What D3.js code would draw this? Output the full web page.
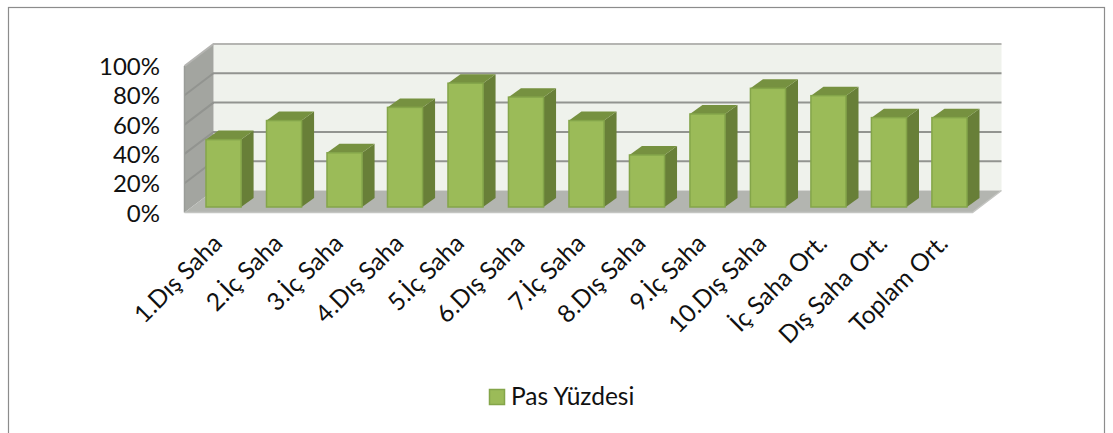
<!DOCTYPE html>
<html><head><meta charset="utf-8">
<style>html,body{margin:0;padding:0;background:#fff;overflow:hidden}svg{display:block}text{font-family:Lato,sans-serif;fill:#111}</style>
<script src="https://cdn.jsdelivr.net/npm/d3@7"></script></head><body>
<script>
const categories=["1.Dış Saha","2.İç Saha","3.İç Saha","4.Dış Saha","5.İç Saha","6.Dış Saha","7.İç Saha","8.Dış Saha","9.İç Saha","10.Dış Saha","İç Saha Ort.","Dış Saha Ort.","Toplam Ort."];
const passPercent=[46,59,37,68,84.5,75,59,35.5,63.5,81,76,61,61];
const yTicks=[0,20,40,60,80,100];
const seriesName="Pas Yüzdesi";

const W=1113,H=433;
const svg=d3.select("body").append("svg").attr("width",W).attr("height",H);
svg.append("rect").attr("x",8.5).attr("y",7.5).attr("width",1096).attr("height",H).attr("fill","#fff").attr("stroke","#8c8c8c").attr("stroke-width",1.2);

const x=d3.scaleBand().domain(categories).range([193,980]).paddingInner(0.42).paddingOuter(0.215);
const y=d3.scaleLinear().domain([0,100]).range([212.5,66]);
const depth={dx:29,dy:-22}, barDepth={dx:12.5,dy:-9}, front={dx:0,dy:-5.5};
const x0=184.5,x1=972.5;

const g=svg.append("g").attr("filter","url(#soft)");
svg.append("defs").append("filter").attr("id","soft").append("feGaussianBlur").attr("stdDeviation",0.5);
const pts=a=>a.map(p=>p.join(",")).join(" ");
g.append("polygon").attr("points",pts([[x0+depth.dx,y(100)+depth.dy],[x1+depth.dx,y(100)+depth.dy],[x1+depth.dx,y(0)+depth.dy],[x0+depth.dx,y(0)+depth.dy]])).attr("fill","#eff2ec");
g.append("polygon").attr("points",pts([[x0,y(100)],[x0+depth.dx,y(100)+depth.dy],[x0+depth.dx,y(0)+depth.dy],[x0,y(0)]])).attr("fill","#a3a5a0");
g.append("polygon").attr("points",pts([[x0,y(0)],[x0+depth.dx,y(0)+depth.dy],[x1+depth.dx,y(0)+depth.dy],[x1,y(0)]])).attr("fill","#b3b5b0");
yTicks.filter(t=>t>0).forEach(t=>{
  g.append("polyline").attr("points",pts([[x0,y(t)],[x0+depth.dx,y(t)+depth.dy],[x1+depth.dx,y(t)+depth.dy]])).attr("fill","none").attr("stroke",t==100?"#b5b5b2":"#929490").attr("stroke-width",2);
});
g.append("line").attr("x1",x0).attr("x2",x0).attr("y1",y(100)).attr("y2",y(0)).attr("stroke","#9a9c98").attr("stroke-width",1.5);
g.append("polyline").attr("points",pts([[x0,y(0)],[x1,y(0)],[x1+depth.dx,y(0)+depth.dy]])).attr("fill","none").attr("stroke","#c4c5c2").attr("stroke-width",1.5);

const bars=g.selectAll("g.bar").data(categories.map((c,i)=>({c,v:passPercent[i]}))).join("g").attr("class","bar");
bars.append("polygon").attr("fill","#687f37").attr("points",d=>{
  const r=x(d.c)+x.bandwidth(),t=y(d.v)+front.dy,b=y(0)+front.dy;
  return pts([[r,t],[r+barDepth.dx,t+barDepth.dy],[r+barDepth.dx,b+barDepth.dy],[r,b]]);});
bars.append("polygon").attr("fill","#76913f").attr("points",d=>{
  const l=x(d.c),r=l+x.bandwidth(),t=y(d.v)+front.dy;
  return pts([[l,t],[l+barDepth.dx,t+barDepth.dy],[r+barDepth.dx,t+barDepth.dy],[r,t]]);});
bars.append("rect").attr("x",d=>x(d.c)).attr("width",x.bandwidth()).attr("y",d=>y(d.v)+front.dy).attr("height",d=>y(0)-y(d.v))
 .attr("fill","#9bbb59").attr("stroke","#84a54a").attr("stroke-width",1.5);

yTicks.forEach(t=>{
  svg.append("text").attr("x",160).attr("y",y(t)+9).attr("text-anchor","end").attr("font-size",24).text(t+"%");
});
categories.forEach(c=>{
  const cx=x(c)+x.bandwidth()/2;
  svg.append("text").attr("transform",`translate(${cx},245) rotate(-45)`).attr("text-anchor","end").attr("font-size",24.5).text(c);
});
g.append("rect").attr("x",489.5).attr("y",389.5).attr("width",15).attr("height",15).attr("fill","#9bbb59").attr("stroke","#84a54a").attr("stroke-width",1.5);
svg.append("text").attr("x",511).attr("y",405).attr("font-size",24.5).text(seriesName);
</script></body></html>
